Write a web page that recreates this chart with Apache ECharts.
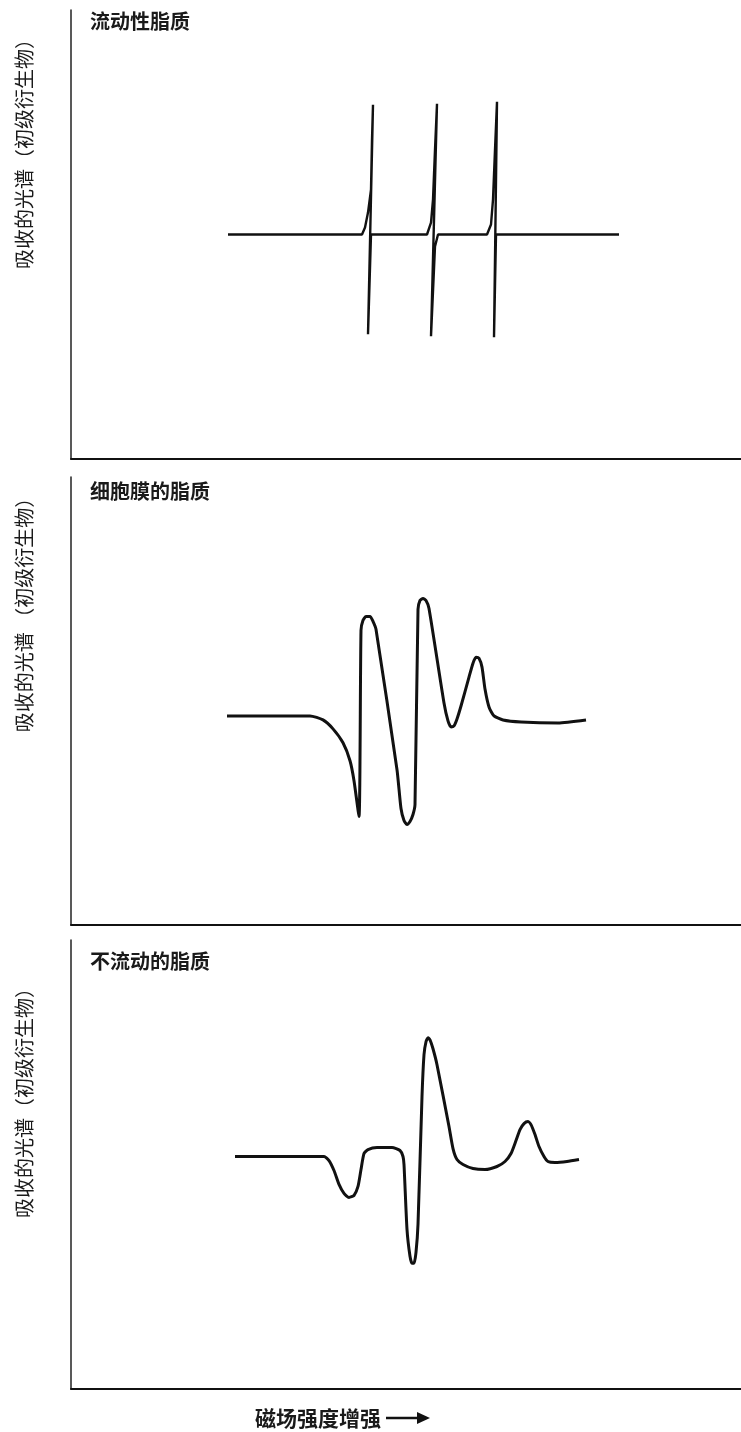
<!DOCTYPE html>
<html>
<head>
<meta charset="utf-8">
<style>
  html, body { margin: 0; padding: 0; background: #fff; }
  #chart { width: 741px; height: 1432px; }
</style>
<script src="https://cdn.jsdelivr.net/npm/echarts@6/dist/echarts.min.js"></script>
</head>
<body>
<div id="chart"></div>
<script>
// panel titles and axis texts
var panelTitles = ['流动性脂质', '细胞膜的脂质', '不流动的脂质'];
var yLabels = ['吸收的光谱（初级衍生物）', '吸收的光谱 （初级衍生物）', '吸收的光谱（初级衍生物）'];
var xLabel = '磁场强度增强';

// [field, signal], field 0..670, signal -225..225
var fluidLipid = [
    [157, 0], [291, 0], [294, 7], [297, 22], [300, 45], [301, 95], [302, 130],
    [297, -100], [300, 0],
    [356, 0], [360, 12], [362, 35], [364, 85], [366, 131],
    [360, -102], [364, -12], [367, 0],
    [416, 0], [420, 10], [422, 35], [424, 85], [426, 133],
    [423, -103], [425, 0],
    [548, 0]
];

var membraneLipid = [
    [156, -15], [239, -15], [252, -19], [262, -28], [272, -42], [279, -60],
    [283, -80], [288, -116],
    [290, 71], [292, 81], [295, 85], [299, 85], [302, 80], [305, 72],
    [326, -69], [330, -108], [333, -120], [336, -124], [339, -121], [342, -114], [344, -104],
    [347, 92], [349, 101], [352, 103], [355, 101], [358, 93],
    [373, -2], [377, -20], [380, -26], [383, -25], [386, -18], [390, -5],
    [398, 24], [402, 38], [405, 44], [408, 43], [411, 34], [414, 12], [418, -6],
    [423, -15], [432, -19], [450, -21], [487, -22], [515, -19]
];

var rigidLipid = [
    [164, 8], [253, 8], [258, 4], [263, -6], [268, -20], [273, -29],
    [278, -33], [283, -31], [287, -22], [290, -5], [293, 11], [297, 15],
    [306, 17], [321, 17], [329, 14], [332, 8], [333, 0],
    [336, -65], [339, -92], [341, -99], [343, -99], [345, -88], [347, -60],
    [351, 68], [353, 110], [355, 123], [357, 127], [359, 125], [362, 116], [366, 100],
    [378, 38], [382, 16], [386, 5], [392, 0], [402, -4], [414, -5], [426, -2], [434, 3],
    [440, 11], [445, 24], [449, 35], [453, 41], [457, 43], [460, 40], [464, 30], [468, 18],
    [473, 8], [477, 3], [484, 2], [496, 3], [508, 5]
];

var panelData = [fluidLipid, membraneLipid, rigidLipid];
var panelTops = [10, 477, 940];
var panelHeights = [449, 448, 449];
var titleTops = [11, 481, 951];
var labelCenters = [149, 610, 1098];
var lineWidths = [2.4, 3, 3];
var smoothing = [false, 0.2, 0.2];

var fontCJK = '"Noto Sans CJK SC", "Noto Sans", sans-serif';

var grids = [], xAxes = [], yAxes = [], series = [], titles = [], graphics = [];
for (var i = 0; i < 3; i++) {
    grids.push({ left: 71, right: 0, top: panelTops[i], height: panelHeights[i] });
    xAxes.push({
        gridIndex: i, type: 'value', min: 0, max: 670,
        axisLine: { show: true, onZero: false, lineStyle: { color: '#111', width: 2 } },
        axisTick: { show: false }, axisLabel: { show: false }, splitLine: { show: false }
    });
    yAxes.push({
        gridIndex: i, type: 'value', min: -225, max: 225,
        axisLine: { show: true, onZero: false, lineStyle: { color: '#222', width: 1.5 } },
        axisTick: { show: false }, axisLabel: { show: false }, splitLine: { show: false }
    });
    series.push({
        type: 'line', xAxisIndex: i, yAxisIndex: i,
        data: panelData[i], symbol: 'none', smooth: smoothing[i],
        lineStyle: { color: '#111', width: lineWidths[i] },
        animation: false
    });
    titles.push({
        text: panelTitles[i], left: 90, top: titleTops[i], padding: 0,
        textStyle: { fontFamily: fontCJK, fontSize: 20, fontWeight: 'bold', color: '#1a1a1a' }
    });
    graphics.push({
        type: 'text', x: 24, y: labelCenters[i], rotation: Math.PI / 2,
        style: {
            text: yLabels[i], fontFamily: fontCJK, fontSize: 20, fill: '#1a1a1a',
            textAlign: 'center', textVerticalAlign: 'middle'
        }
    });
}
// x axis name with its arrow
graphics.push({
    type: 'text', x: 255, y: 1418,
    style: {
        text: xLabel, fontFamily: fontCJK, fontSize: 21, fontWeight: 'bold', fill: '#1a1a1a',
        textAlign: 'left', textVerticalAlign: 'middle'
    }
});
graphics.push({
    type: 'line', shape: { x1: 386, y1: 1418, x2: 420, y2: 1418 },
    style: { stroke: '#111', lineWidth: 2.5 }
});
graphics.push({
    type: 'polygon', shape: { points: [[417, 1412], [430, 1418], [417, 1424]] },
    style: { fill: '#111' }
});

var option = {
    backgroundColor: '#fff',
    animation: false,
    title: titles,
    grid: grids,
    xAxis: xAxes,
    yAxis: yAxes,
    series: series,
    graphic: graphics
};

var chart = echarts.init(document.getElementById('chart'));
chart.setOption(option);
</script>
</body>
</html>
